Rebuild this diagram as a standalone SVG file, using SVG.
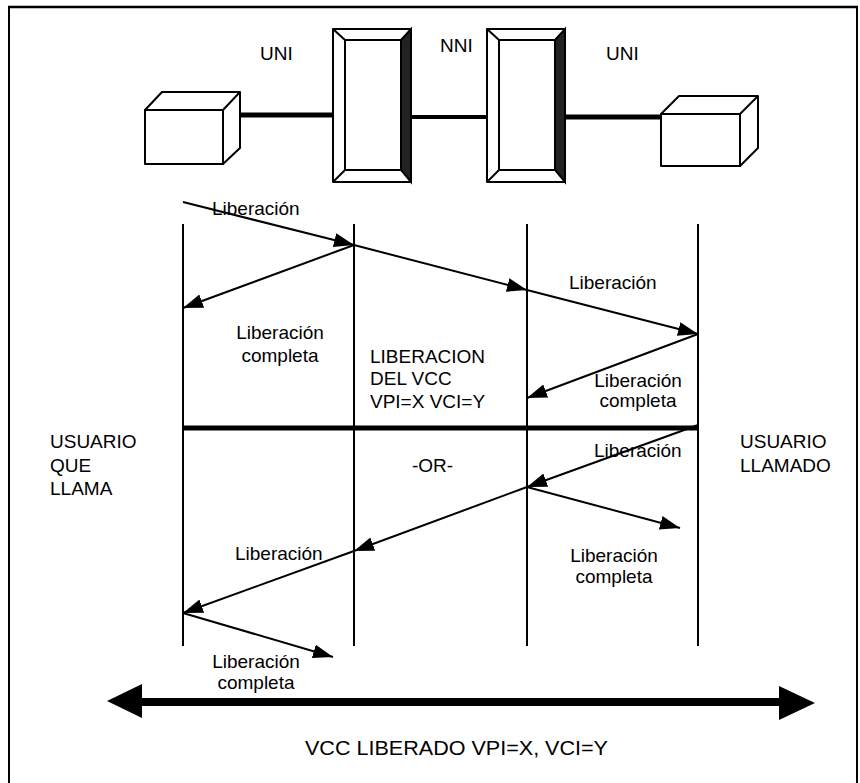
<svg xmlns="http://www.w3.org/2000/svg" width="860" height="783" viewBox="0 0 860 783">
<style>
text{font-family:"Liberation Sans",Arial,sans-serif;font-size:19px;fill:#000}
.big{font-size:21px}
.mid{text-anchor:middle}
.msg{stroke:#000;stroke-width:2;fill:none;marker-end:url(#ah)}
.life{stroke:#000;stroke-width:2}
.box{fill:#fff;stroke:#000;stroke-width:2;stroke-linejoin:round}
.link{stroke:#000}
</style>
<defs>
<marker id="ah" markerUnits="userSpaceOnUse" markerWidth="22" markerHeight="16" refX="20" refY="7" orient="auto">
<path d="M0,0 L20,7 L0,14 z" fill="#000"/>
</marker>
</defs>
<rect width="860" height="783" fill="#fff"/>
<g id="frame" fill="none" stroke="#000">
<line x1="8" y1="7" x2="858" y2="7" stroke-width="2.5"/>
<line x1="9" y1="7" x2="9" y2="783" stroke-width="2"/>
<line x1="857" y1="7" x2="857" y2="783" stroke-width="2"/>
</g>
<g id="links">
<line class="link" x1="240" y1="115" x2="333" y2="115" stroke-width="5"/>
<line class="link" x1="411" y1="117" x2="487" y2="117" stroke-width="4"/>
<line class="link" x1="565" y1="117" x2="661" y2="117" stroke-width="5"/>
</g>
<g id="cube-left">
<path class="box" d="M145,110 L162,92 L240,92 L240,148 L223,164 L223,110 Z"/>
<rect class="box" x="145" y="110" width="78" height="54"/>
<line class="box" x1="223" y1="110" x2="240" y2="92"/>
</g>
<g id="cube-right">
<path class="box" d="M661,114 L679,96 L758,96 L758,148 L740,166 L740,114 Z"/>
<rect class="box" x="661" y="114" width="79" height="52"/>
<line class="box" x1="740" y1="114" x2="758" y2="96"/>
</g>
<g id="switch-1">
<rect class="box" x="333" y="29" width="78" height="153" stroke-width="2.5"/>
<polygon points="401,40 411,29 411,182 401,170" fill="#222" stroke="#000" stroke-width="2"/>
<rect class="box" x="345" y="40" width="56" height="130"/>
<line class="box" x1="333" y1="29" x2="345" y2="40"/>
<line class="box" x1="333" y1="182" x2="345" y2="170"/>
</g>
<g id="switch-2">
<rect class="box" x="487" y="29" width="78" height="153" stroke-width="2.5"/>
<polygon points="555,40 565,29 565,182 555,170" fill="#222" stroke="#000" stroke-width="2"/>
<rect class="box" x="499" y="40" width="56" height="130"/>
<line class="box" x1="487" y1="29" x2="499" y2="40"/>
<line class="box" x1="487" y1="182" x2="499" y2="170"/>
</g>
<g id="top-labels">
<text x="260" y="60">UNI</text>
<text x="440" y="52">NNI</text>
<text x="606" y="60">UNI</text>
</g>
<g id="lifelines">
<line class="life" x1="183" y1="224" x2="183" y2="646"/>
<line class="life" x1="354" y1="224" x2="354" y2="646"/>
<line class="life" x1="527" y1="224" x2="527" y2="646"/>
<line class="life" x1="698" y1="224" x2="698" y2="646"/>
<line x1="182" y1="428" x2="699" y2="428" stroke="#000" stroke-width="5"/>
</g>
<g id="connectors">
<line class="msg" x1="183" y1="202" x2="354" y2="245"/>
<line class="msg" x1="354" y1="245" x2="183" y2="308"/>
<line class="msg" x1="354" y1="245" x2="527" y2="290"/>
<line class="msg" x1="527" y1="290" x2="698" y2="334"/>
<line class="msg" x1="698" y1="334" x2="527" y2="398"/>
<line class="msg" x1="698" y1="425" x2="527" y2="487"/>
<line class="msg" x1="527" y1="487" x2="680" y2="528"/>
<line class="msg" x1="527" y1="487" x2="354" y2="551"/>
<line class="msg" x1="354" y1="551" x2="183" y2="613"/>
<line class="msg" x1="183" y1="613" x2="333" y2="657"/>
</g>
<g id="vcc-arrow">
<line x1="140" y1="702" x2="781" y2="702" stroke="#000" stroke-width="8"/>
<polygon points="107,701 142,684 142,718" fill="#000"/>
<polygon points="815,703 779,686 779,720" fill="#000"/>
</g>
<g id="labels">
<text x="212" y="215">Liberación</text>
<text x="569" y="289">Liberación</text>
<text class="mid" x="280" y="339">Liberación</text>
<text class="mid" x="280" y="362">completa</text>
<text x="370" y="363">LIBERACION</text>
<text x="370" y="385">DEL VCC</text>
<text x="370" y="408">VPI=X VCI=Y</text>
<text class="mid" x="638" y="387">Liberación</text>
<text class="mid" x="638" y="407">completa</text>
<text x="50" y="448">USUARIO</text>
<text x="50" y="472">QUE</text>
<text x="50" y="495">LLAMA</text>
<text x="740" y="448">USUARIO</text>
<text x="740" y="472">LLAMADO</text>
<text x="412" y="472">-OR-</text>
<text x="594" y="457">Liberación</text>
<text class="mid" x="614" y="562">Liberación</text>
<text class="mid" x="614" y="583">completa</text>
<text x="235" y="560">Liberación</text>
<text class="mid" x="256" y="668">Liberación</text>
<text class="mid" x="256" y="689">completa</text>
<text class="big" x="305" y="755" textLength="303" lengthAdjust="spacingAndGlyphs">VCC LIBERADO VPI=X, VCI=Y</text>
</g>
</svg>
